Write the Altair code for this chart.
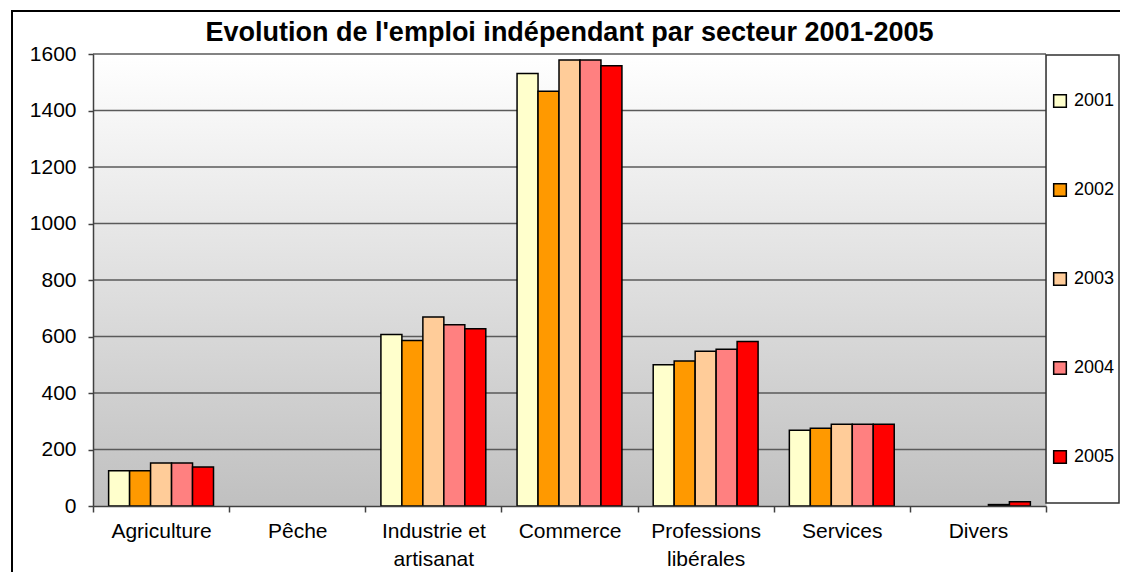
import altair as alt
import pandas as pd

categories = ["Agriculture", "Pêche", "Industrie et artisanat", "Commerce",
              "Professions libérales", "Services", "Divers"]
years = ["2001", "2002", "2003", "2004", "2005"]
v2001 = [125, 0, 607, 1531, 500, 268, 0]
v2002 = [125, 0, 586, 1468, 513, 275, 0]
v2003 = [152, 0, 669, 1579, 548, 289, 0]
v2004 = [152, 0, 642, 1579, 555, 289, 5]
v2005 = [138, 0, 627, 1558, 582, 289, 15]
colors = ["#FFFFCC", "#FF9900", "#FFCC99", "#FF8080", "#FF0000"]
grid_values = [200, 400, 600, 800, 1000, 1200, 1400, 1600]
y_ticks = [0, 200, 400, 600, 800, 1000, 1200, 1400, 1600]
title_text = ["Evolution de l'emploi indépendant par secteur 2001-2005"]

series = [v2001, v2002, v2003, v2004, v2005]
rows = []
for yr, vals in zip(years, series):
    for c, v in zip(categories, vals):
        rows.append({"secteur": c, "annee": yr, "valeur": v})
df = pd.DataFrame(rows)

W, H = 953, 452
FONT = "Liberation Sans, Arial, sans-serif"

label_expr = ("datum.label == 'Industrie et artisanat' ? ['Industrie et', 'artisanat'] : "
              "datum.label == 'Professions libérales' ? ['Professions', 'libérales'] : datum.label")

one = pd.DataFrame({"k": [0]})

bg = alt.Chart(one).mark_rect(
    color=alt.Gradient(gradient="linear",
                       stops=[alt.GradientStop(color="#FFFFFF", offset=0),
                              alt.GradientStop(color="#C0C0C0", offset=1)],
                       x1=0, x2=0, y1=0, y2=1)
).encode(x=alt.value(0), x2=alt.value(W), y=alt.value(0), y2=alt.value(H))

grid = alt.Chart(pd.DataFrame({"g": grid_values})).mark_rule(
    color="#5A5A5A", strokeWidth=1.5
).encode(y=alt.Y("g:Q", scale=alt.Scale(domain=[0, 1600])), x=alt.value(0), x2=alt.value(W))

bars = alt.Chart(df).transform_filter("datum.valeur > 0").mark_bar(
    stroke="#000000", strokeWidth=1.5
).encode(
    x=alt.X("secteur:N", sort=categories,
            scale=alt.Scale(domain=categories, paddingInner=0, paddingOuter=0),
            axis=alt.Axis(title=None, labelAngle=0, labelExpr=label_expr, tickBand="extent",
                          labelFontSize=21, labelFont=FONT, labelColor="#000000",
                          labelPadding=8, labelLineHeight=28,
                          domainColor="#404040", domainWidth=1.5, tickColor="#404040",
                          tickWidth=1.5, tickSize=6, zindex=1, grid=False)),
    xOffset=alt.XOffset("annee:N", sort=years,
                        scale=alt.Scale(domain=years, paddingInner=0, paddingOuter=0.745)),
    y=alt.Y("valeur:Q", scale=alt.Scale(domain=[0, 1600], nice=False),
            axis=alt.Axis(title=None, values=y_ticks, format="d", grid=False, labelFontSize=21,
                          labelFont=FONT, labelColor="#000000", labelPadding=12,
                          domainColor="#404040", domainWidth=1.5, tickColor="#404040",
                          tickWidth=1.5, tickSize=5, zindex=1)),
    color=alt.Color("annee:N", sort=years,
                    scale=alt.Scale(domain=years, range=colors),
                    legend=alt.Legend(title=None, orient="none", legendX=958, legendY=38,
                                      direction="vertical", symbolType="square",
                                      symbolSize=160, symbolStrokeColor="#000000",
                                      symbolStrokeWidth=1.5, labelFontSize=18,
                                      labelFont=FONT, labelColor="#000000",
                                      labelOffset=5, rowPadding=69, padding=0,
                                      labelLimit=200)),
)

title = alt.Chart(pd.DataFrame({"t": title_text})).mark_text(
    font=FONT, fontSize=27, fontWeight="bold", color="#000000",
    align="center", baseline="middle"
).encode(text="t:N", x=alt.value(W / 2), y=alt.value(-21))

legend_box = alt.Chart(one).mark_rect(
    fill="#FFFFFF", fillOpacity=0, stroke="#303030", strokeWidth=1.5
).encode(x=alt.value(W), x2=alt.value(1026), y=alt.value(1), y2=alt.value(449))

outer = alt.Chart(one).mark_rect(
    fill="#FFFFFF", fillOpacity=0, stroke="#000000", strokeWidth=2
).encode(x=alt.value(-81), x2=alt.value(W + 300), y=alt.value(-43), y2=alt.value(H + 300))

chart = alt.layer(bg, grid, bars, legend_box, outer, title).resolve_scale(y="shared").properties(
    width=W, height=H,
    autosize=alt.AutoSizeParams(type="none"),
    padding={"left": 85, "top": 46, "right": 74, "bottom": 66},
).configure_view(stroke=None).configure(background="#FFFFFF")

chart.save("out.html", embed_options={"renderer": "svg", "actions": False})
